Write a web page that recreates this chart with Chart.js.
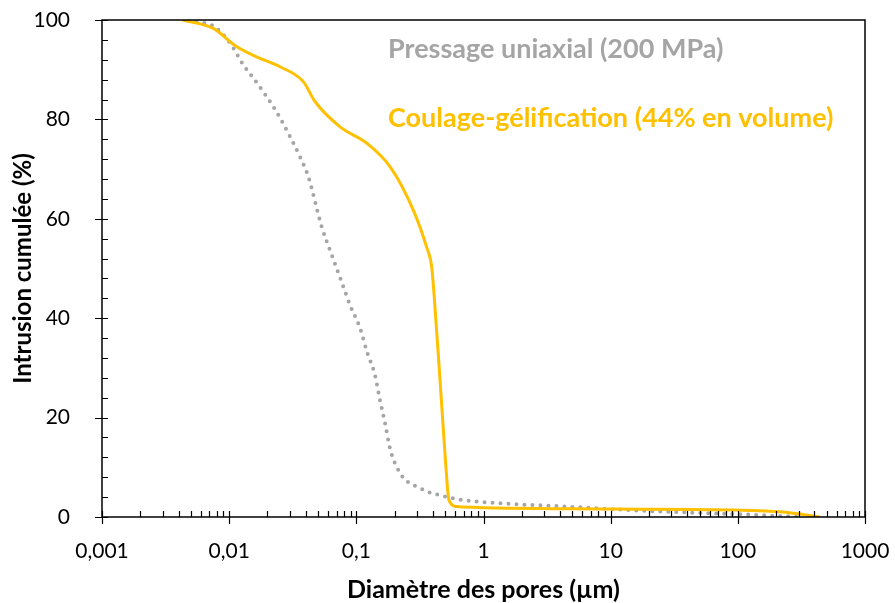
<!DOCTYPE html>
<html>
<head>
<meta charset="utf-8">
<script src="https://cdn.jsdelivr.net/npm/chart.js@4/dist/chart.umd.min.js"></script>
<style>
  html, body { margin: 0; padding: 0; background: #fff; }
  #wrap { width: 895px; height: 603px; position: relative; }
</style>
</head>
<body>
<div id="wrap"><canvas id="chart"></canvas></div>
<script>
// pore diameter (µm) and cumulative intrusion (%)
const castDiam = [0.0043, 0.0075, 0.0115, 0.0164, 0.0251, 0.0383, 0.0473, 0.0745, 0.121, 0.184, 0.28, 0.356, 0.391, 0.408, 0.455, 0.504, 0.535, 0.615, 0.694, 9.9, 92, 227, 443];
const castIntr = [100, 98.3, 94.6, 92.6, 90.6, 87.6, 83.6, 78.5, 75.2, 70.5, 61.8, 54.4, 50.4, 45, 27.6, 10.8, 3.4, 2.1, 2.0, 1.6, 1.4, 1.0, 0];

const pressDiam = [0.0048, 0.0066, 0.0077, 0.0102, 0.0129, 0.0155, 0.0185, 0.0236, 0.0292, 0.036, 0.042, 0.0534, 0.062, 0.0766, 0.089, 0.107, 0.121, 0.14, 0.1535, 0.168, 0.184, 0.2015, 0.234, 0.298, 0.35, 0.39, 0.455, 0.615, 1.12, 4.5, 20, 92, 300];
const pressIntr = [100, 99.3, 98.6, 95.3, 91, 88.3, 85.6, 81.5, 77.2, 72.5, 68.4, 58.4, 53.7, 47.3, 42.7, 38, 33.3, 28.6, 23.5, 18.9, 13.8, 10.8, 7.9, 6.1, 5.3, 4.8, 4.4, 3.6, 2.9, 2.1, 1.2, 0.6, 0.05];

const seriesNames = ['Coulage-gélification (44% en volume)', 'Pressage uniaxial (200 MPa)'];
const xDecades = [0.001, 0.01, 0.1, 1, 10, 100, 1000];
const yMajor = [0, 20, 40, 60, 80, 100];

const ORANGE = '#FFC000';
const GREY = '#A5A5A5';

function toPoints(xs, ys) {
  return xs.map((x, i) => ({ x: x, y: ys[i] }));
}

function decadeLabel(v) {
  const e = Math.round(Math.log10(v));
  if (Math.abs(Math.log10(v) - e) > 1e-6) return '';
  if (e < 0) return Math.pow(10, e).toFixed(-e).replace('.', ',');
  return String(Math.pow(10, e));
}

// frame, tick marks and in-chart labels
const framePlugin = {
  id: 'frame',
  afterDraw(chart) {
    const ctx = chart.ctx;
    const a = chart.chartArea;
    const xs = chart.scales.x;
    const ys = chart.scales.y;
    ctx.save();
    ctx.strokeStyle = '#000';
    ctx.lineWidth = 1.5;
    ctx.strokeRect(a.left, a.top, a.right - a.left, a.bottom - a.top);

    ctx.lineWidth = 1.2;
    ctx.beginPath();
    // y ticks: major cross, minor inside
    for (let v = 0; v <= 100; v += 4) {
      const py = Math.round(ys.getPixelForValue(v)) + 0.5;
      const major = yMajor.includes(v);
      ctx.moveTo(a.left - (major ? 7 : 0), py);
      ctx.lineTo(a.left + 6, py);
    }
    // x ticks: decades cross, 2..9 inside
    xDecades.forEach((d, i) => {
      const px = Math.round(xs.getPixelForValue(d)) + 0.5;
      ctx.moveTo(px, a.bottom + 7);
      ctx.lineTo(px, a.bottom - 6);
      if (i < xDecades.length - 1) {
        for (let k = 2; k <= 9; k++) {
          const pm = Math.round(xs.getPixelForValue(d * k)) + 0.5;
          ctx.moveTo(pm, a.bottom);
          ctx.lineTo(pm, a.bottom - 6);
        }
      }
    });
    ctx.stroke();

    ctx.font = 'bold 27px Lato';
    ctx.textBaseline = 'middle';
    ctx.textAlign = 'left';
    ctx.fillStyle = GREY;
    ctx.fillText(seriesNames[1], a.left + 286, a.top + 29);
    ctx.fillStyle = ORANGE;
    ctx.fillText(seriesNames[0], a.left + 286, a.top + 98);
    ctx.restore();
  }
};

const ctx = document.getElementById('chart').getContext('2d');
new Chart(ctx, {
  type: 'scatter',
  data: {
    datasets: [{
      label: seriesNames[0],
      data: toPoints(castDiam, castIntr),
      showLine: true,
      borderColor: ORANGE,
      borderWidth: 3,
      pointRadius: 0,
      cubicInterpolationMode: 'monotone',
      order: 0
    }, {
      label: seriesNames[1],
      data: toPoints(pressDiam, pressIntr),
      showLine: true,
      borderColor: GREY,
      borderWidth: 4,
      borderDash: [0, 8],
      borderCapStyle: 'round',
      pointRadius: 0,
      cubicInterpolationMode: 'monotone',
      order: 1
    }]
  },
  options: {
    responsive: true,
    maintainAspectRatio: false,
    animation: false,
    devicePixelRatio: 1,
    layout: { padding: { left: 0, top: 20, right: 30, bottom: 0 } },
    plugins: {
      legend: { display: false },
      tooltip: { enabled: false }
    },
    scales: {
      x: {
        type: 'logarithmic',
        min: 0.001,
        max: 1000,
        afterFit(scale) {
          scale.height = 86;
          scale.paddingLeft = 0;
          scale.paddingRight = 0;
        },
        afterBuildTicks(scale) {
          scale.ticks = xDecades.map(v => ({ value: v }));
        },
        grid: { display: false, drawTicks: false },
        border: { display: false },
        ticks: {
          autoSkip: false,
          maxRotation: 0,
          padding: 22,
          color: '#000',
          font: { family: 'Lato', size: 21 },
          callback: v => decadeLabel(v)
        },
        title: {
          display: true,
          text: 'Diamètre des pores (µm)',
          color: '#000',
          font: { family: 'Lato', size: 25, weight: 'bold', lineHeight: 1 },
          padding: { top: 0, bottom: 1 }
        }
      },
      y: {
        min: 0,
        max: 100,
        afterFit(scale) {
          scale.width = 102;
          scale.paddingTop = 0;
          scale.paddingBottom = 0;
        },
        afterBuildTicks(scale) {
          scale.ticks = yMajor.map(v => ({ value: v }));
        },
        grid: { display: false, drawTicks: false },
        border: { display: false },
        ticks: {
          padding: 32,
          color: '#000',
          font: { family: 'Lato', size: 21 }
        },
        title: {
          display: true,
          text: 'Intrusion cumulée (%)',
          color: '#000',
          font: { family: 'Lato', size: 24, weight: 'bold', lineHeight: 1 },
          padding: { top: 11, bottom: 0 }
        }
      }
    }
  },
  plugins: [framePlugin]
});
</script>
</body>
</html>
